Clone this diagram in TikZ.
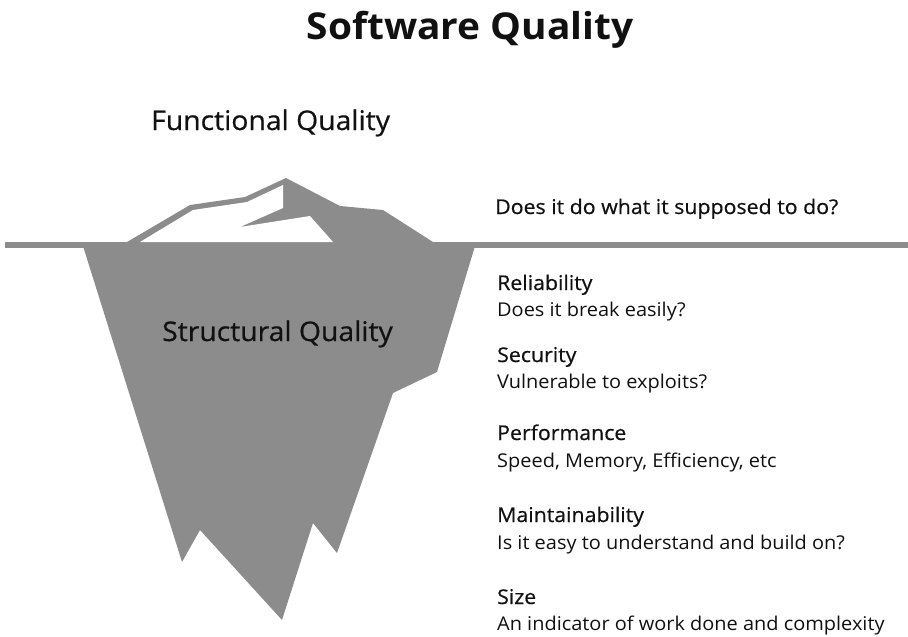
\documentclass[tikz,border=0pt]{standalone}
\usepackage{fontspec}
\setmainfont{Open Sans}[FakeStretch=1.05]
\newfontfamily\medfont{Open Sans}[FakeStretch=1.05,FakeBold=0.6]
\definecolor{ice}{HTML}{8C8C8C}
\definecolor{ink}{HTML}{111111}
\begin{document}
\begin{tikzpicture}[x=1pt,y=-1pt,
  title/.style={anchor=base, font=\bfseries\fontsize{37}{40}\selectfont, text=ink, inner sep=0pt},
  bighead/.style={anchor=base west, font=\medfont\fontsize{27}{30}\selectfont, text=ink, inner sep=0pt},
  head/.style={anchor=base west, font=\medfont\fontsize{20.3}{23}\selectfont, text=ink, inner sep=0pt},
  desc/.style={anchor=base west, font=\fontsize{19}{22}\selectfont, text=ink, inner sep=0pt}]
\useasboundingbox (0,0) rectangle (908,637);

% water line
\fill[ice] (5,242) rectangle (908,248);

% tip of the iceberg above the water
\fill[ice] (127,242) -- (190,205) -- (245,197) -- (286,178) -- (340,206)
  -- (383,210) -- (433,242) -- cycle;
\fill[white] (140,242) -- (193,210) -- (247,202) -- (283,185) -- (283,208)
  -- (240,227) -- (310,216) -- (333,242) -- cycle;

% submerged part
\fill[ice] (83,246) -- (182,562) -- (200,530) -- (282,620) -- (313,523)
  -- (337,553) -- (393,393) -- (437,372) -- (475,246) -- cycle;

% labels
\node[title] (t) at (470,39) {Software Quality};
\node[bighead] (fq) at (151,130) {Functional Quality};
\node[bighead] (sq) at (162,341) {Structural Quality};
\node[head] (fd) at (495,214) {Does it do what it supposed to do?};

\node[head] (r1) at (497,290) {Reliability};
\node[desc] (r2) at (497,316) {Does it break easily?};
\node[head] (s1) at (497,362) {Security};
\node[desc] (s2) at (497,388) {Vulnerable to exploits?};
\node[head] (p1) at (497,440) {Performance};
\node[desc] (p2) at (497,467) {Speed, Memory, Efficiency, etc};
\node[head] (m1) at (497,522) {Maintainability};
\node[desc] (m2) at (497,549) {Is it easy to understand and build on?};
\node[head] (z1) at (497,604) {Size};
\node[desc] (z2) at (497,630) {An indicator of work done and complexity};
\end{tikzpicture}
\end{document}
